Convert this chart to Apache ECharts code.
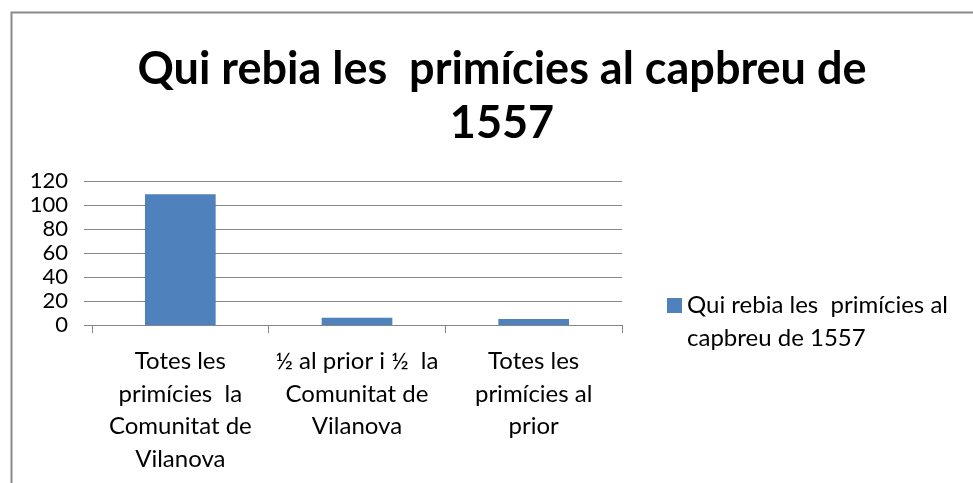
<!DOCTYPE html>
<html>
<head>
<meta charset="utf-8">
<script src="https://cdn.jsdelivr.net/npm/echarts@6/dist/echarts.min.js"></script>
<style>html,body{margin:0;padding:0;background:#fff}#c{width:973px;height:483px}</style>
</head>
<body>
<div id="c"></div>
<script>
const titleText = 'Qui rebia les  primícies al capbreu de\n1557';
const seriesName = 'Qui rebia les  primícies al capbreu de 1557';
const legendLabel = 'Qui rebia les  primícies al\ncapbreu de 1557';
const categories = [
  'Totes les\nprimícies  la\nComunitat de\nVilanova',
  '½ al prior i ½  la\nComunitat de\nVilanova',
  'Totes les\nprimícies al\nprior'
];
const values = [109, 6, 5];
const yTicks = [0, 20, 40, 60, 80, 100, 120];

const FONT = 'Lato, "Open Sans", sans-serif';
const chart = echarts.init(document.getElementById('c'), null, {renderer: 'canvas'});
chart.setOption({
  animation: false,
  backgroundColor: '#fff',
  graphic: [{
    type: 'rect', left: 9, top: 10,
    shape: {width: 1100, height: 600},
    style: {fill: 'none', stroke: '#8a8a8a', lineWidth: 2},
    silent: true
  }],
  title: {
    text: titleText,
    left: 497, top: 37, textAlign: 'center',
    textStyle: {fontFamily: FONT, fontWeight: 'bold', fontSize: 45, lineHeight: 54, color: '#000'}
  },
  grid: {left: 92, right: 351, top: 181, bottom: 158, containLabel: false},
  legend: {
    left: 662, top: 284,
    itemWidth: 15, itemHeight: 48, itemGap: 0,
    icon: 'path://M0,0h15v15h-15z M0,48L0,48',
    data: [seriesName],
    formatter: () => legendLabel,
    textStyle: {fontFamily: FONT, fontSize: 24, color: '#000', lineHeight: 33}
  },
  xAxis: {
    type: 'category',
    data: categories,
    axisLine: {show: true, lineStyle: {color: '#868686', width: 1}},
    axisTick: {show: true, length: 8, lineStyle: {color: '#868686'}},
    axisLabel: {fontFamily: FONT, fontSize: 24, color: '#000', lineHeight: 32.7, margin: 20, interval: 0}
  },
  yAxis: {
    type: 'value',
    min: 0, max: 120, interval: 20,
    axisLine: {show: false},
    axisTick: {show: true, length: 8, lineStyle: {color: '#868686'}},
    splitLine: {show: true, lineStyle: {color: '#868686', width: 1}},
    axisLabel: {
      fontFamily: FONT, fontSize: 22, color: '#000', margin: 24,
      formatter: v => yTicks.includes(v) ? String(v) : ''
    }
  },
  series: [{
    name: seriesName,
    type: 'bar',
    data: values,
    barWidth: '40%',
    itemStyle: {color: '#4f81bd'}
  }]
});
</script>
</body>
</html>
